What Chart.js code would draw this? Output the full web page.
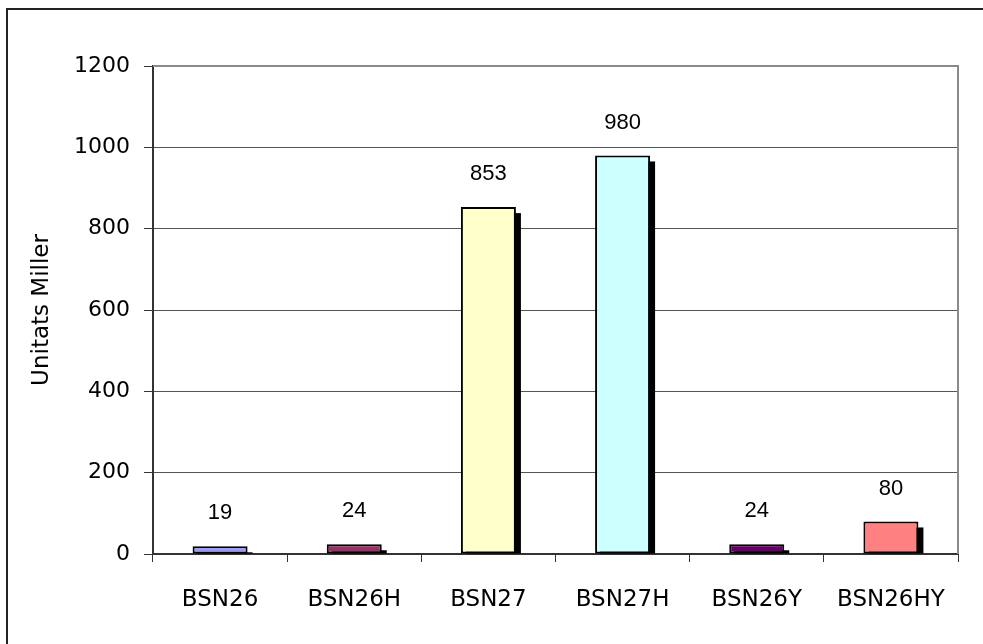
<!DOCTYPE html>
<html>
<head>
<meta charset="utf-8">
<title>Unitats Miller</title>
<script src="https://cdn.jsdelivr.net/npm/chart.js@4.4.1/dist/chart.umd.min.js"></script>
<style>
  html, body { margin: 0; padding: 0; background: #fff; overflow: hidden; }
  #wrap { position: relative; width: 983px; height: 644px; }
  #frame {
    position: absolute; left: 6px; top: 8px; width: 990px; height: 650px;
    border-top: 2px solid #222; border-left: 2px solid #222;
  }
  #chart { position: absolute; left: 0; top: 0; }
</style>
</head>
<body>
<div id="wrap">
  <div id="frame"></div>
  <canvas id="chart" width="983" height="644"></canvas>
</div>
<script>
const categories = ['BSN26', 'BSN26H', 'BSN27', 'BSN27H', 'BSN26Y', 'BSN26HY'];
const unitats = [19, 24, 853, 980, 24, 80];
const barColors = ['#9999FF', '#993366', '#FFFFCC', '#CCFFFF', '#660066', '#FF8080'];
const yTicks = [0, 200, 400, 600, 800, 1000, 1200];

const xFont = { family: '"DejaVu Sans", sans-serif', size: 23 };
const yFont = { family: '"DejaVu Sans", sans-serif', size: 22 };

// black drop shadow behind each bar
const barShadow = {
  id: 'barShadow',
  beforeDatasetsDraw(chart) {
    const ctx = chart.ctx;
    const meta = chart.getDatasetMeta(0);
    ctx.save();
    ctx.fillStyle = '#000';
    meta.data.forEach(bar => {
      const p = bar.getProps(['x', 'y', 'base', 'width'], true);
      const left = p.x - p.width / 2 + 5;
      const top = p.y + 6;
      if (p.base > top) ctx.fillRect(left, top, p.width, p.base - top);
    });
    ctx.restore();
  }
};

// value above each bar
const valueLabels = {
  id: 'valueLabels',
  afterDatasetsDraw(chart) {
    const ctx = chart.ctx;
    const meta = chart.getDatasetMeta(0);
    const ds = chart.data.datasets[0];
    ctx.save();
    ctx.fillStyle = '#000';
    ctx.font = '22px "Liberation Sans", Arial, sans-serif';
    ctx.textAlign = 'center';
    ctx.textBaseline = 'middle';
    meta.data.forEach((bar, i) => {
      ctx.fillText(String(ds.data[i]), bar.x, bar.y - 33);
    });
    ctx.restore();
  }
};

// grey frame on the top and right of the plot area
const plotFrame = {
  id: 'plotFrame',
  beforeDatasetsDraw(chart) {
    const { ctx, chartArea: a } = chart;
    ctx.save();
    ctx.strokeStyle = '#8a8a8a';
    ctx.lineWidth = 2;
    ctx.beginPath();
    ctx.moveTo(a.left, a.top);
    ctx.lineTo(a.right, a.top);
    ctx.lineTo(a.right, a.bottom);
    ctx.stroke();
    ctx.restore();
  }
};

new Chart(document.getElementById('chart'), {
  type: 'bar',
  data: {
    labels: categories,
    datasets: [{
      data: unitats,
      backgroundColor: barColors,
      borderColor: '#000',
      borderWidth: 2,
      borderSkipped: false,
      categoryPercentage: 1,
      barPercentage: 0.41
    }]
  },
  options: {
    responsive: false,
    animation: false,
    layout: { padding: { left: 28, top: 66, right: 25, bottom: 0 } },
    plugins: {
      legend: { display: false },
      tooltip: { enabled: false }
    },
    scales: {
      x: {
        afterFit: s => { s.height = 90; },
        grid: {
          offset: true,
          drawOnChartArea: false,
          drawTicks: true,
          tickLength: 8,
          color: '#333'
        },
        border: { color: '#333', width: 2 },
        ticks: { color: '#000', font: xFont, padding: 24, maxRotation: 0 }
      },
      y: {
        min: 0,
        max: 1200,
        afterFit: s => { s.width = 125; },
        afterBuildTicks: s => { s.ticks = yTicks.map(v => ({ value: v })); },
        grid: {
          color: '#555',
          lineWidth: 1,
          tickLength: 9,
          tickColor: '#333'
        },
        border: { color: '#333', width: 2 },
        ticks: { color: '#000', font: yFont, padding: 14, callback: v => String(v) },
        title: {
          display: true,
          text: 'Unitats Miller',
          color: '#000',
          font: xFont,
          padding: 0
        }
      }
    }
  },
  plugins: [plotFrame, barShadow, valueLabels]
});
</script>
</body>
</html>
